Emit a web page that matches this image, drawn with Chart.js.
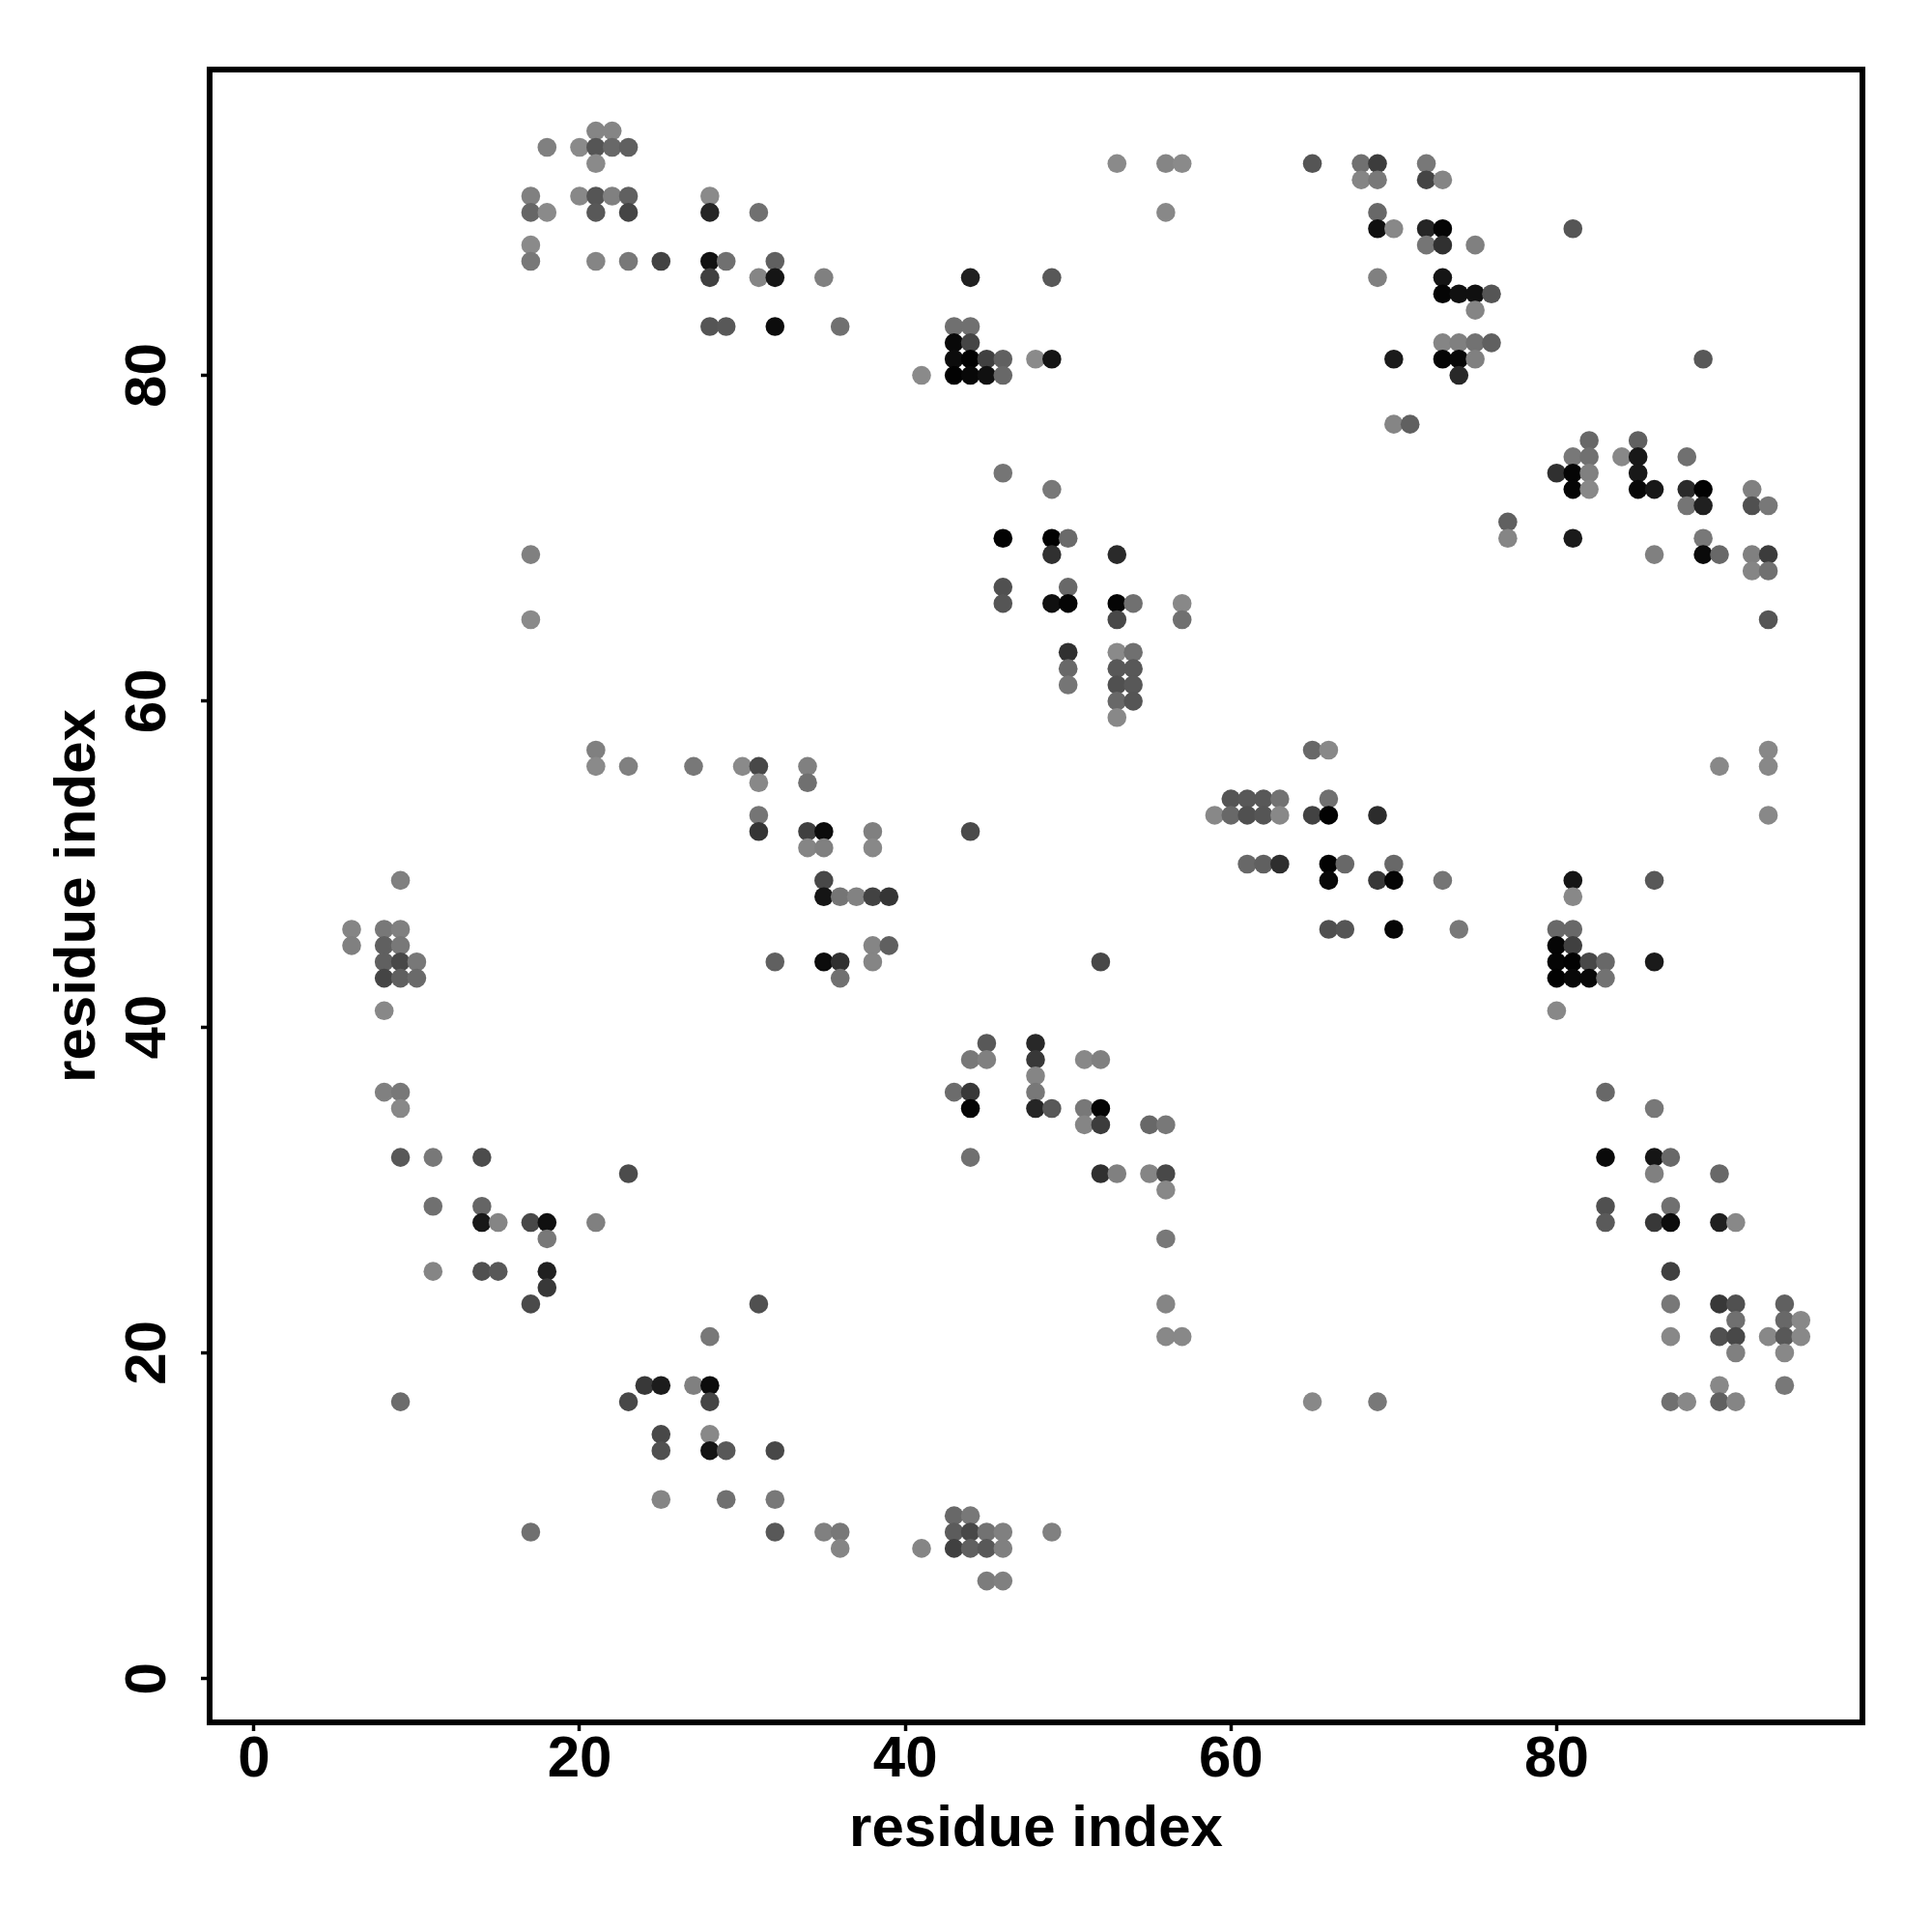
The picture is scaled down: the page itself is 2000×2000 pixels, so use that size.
<!DOCTYPE html>
<html>
<head>
<meta charset="utf-8">
<title>residue contacts</title>
<script src="https://cdn.jsdelivr.net/npm/chart.js@4"></script>
<style>
  html, body { margin: 0; padding: 0; background: #fff; }
  canvas { display: block; }
</style>
</head>
<body>
<canvas id="contactMap" width="2000" height="2000"></canvas>
<script>
// y value of each row of dots, top of the plot first
const rowY = [95, 94, 93, 92, 91, 90, 89, 88, 87, 86, 85, 84, 83, 82, 81, 80, 77, 76, 75, 74, 73, 72, 71, 70,
  69, 68, 67, 66, 65, 63, 62, 61, 60, 59, 57, 56, 55, 54, 53, 52, 51, 50, 49, 48, 46, 45, 44, 43, 41, 39, 38,
  37, 36, 35, 34, 32, 31, 30, 29, 28, 27, 25, 24, 23, 22, 21, 20, 18, 17, 15, 14, 11, 10, 9, 8, 6];

// x values of the dots in each row
const rowX = [
  [21, 22],
  [18, 20, 21, 22, 23],
  [21, 53, 56, 57, 65, 68, 69, 72],
  [68, 69, 72, 73],
  [17, 20, 21, 22, 23, 28],
  [17, 18, 21, 23, 28, 31, 56, 69],
  [69, 70, 72, 73, 81],
  [17, 72, 73, 75],
  [17, 21, 23, 25, 28, 29, 32],
  [28, 31, 32, 35, 44, 49, 69, 73],
  [73, 74, 75, 76],
  [75],
  [28, 29, 32, 36, 43, 44],
  [43, 44, 73, 74, 75, 76],
  [43, 44, 45, 46, 48, 49, 70, 73, 74, 75, 89],
  [41, 43, 44, 45, 46, 74],
  [70, 71],
  [82, 85],
  [81, 82, 84, 85, 88],
  [46, 80, 81, 82, 85],
  [49, 81, 82, 85, 86, 88, 89, 92],
  [88, 89, 92, 93],
  [77],
  [46, 49, 50, 77, 81, 89],
  [17, 49, 53, 86, 89, 90, 92, 93],
  [92, 93],
  [46, 50],
  [46, 49, 50, 53, 54, 57],
  [17, 53, 57, 93],
  [50, 53, 54],
  [50, 53, 54],
  [50, 53, 54],
  [53, 54],
  [53],
  [21, 65, 66, 93],
  [21, 23, 27, 30, 31, 34, 90, 93],
  [31, 34],
  [60, 61, 62, 63, 66],
  [31, 59, 60, 61, 62, 63, 65, 66, 69, 93],
  [31, 34, 35, 38, 44],
  [34, 35, 38],
  [61, 62, 63, 66, 67, 70],
  [9, 35, 66, 69, 70, 73, 81, 86],
  [35, 36, 37, 38, 39, 81],
  [6, 8, 9, 66, 67, 70, 74, 80, 81],
  [6, 8, 9, 38, 39, 80, 81],
  [8, 9, 10, 32, 35, 36, 38, 52, 80, 81, 82, 83, 86],
  [8, 9, 10, 36, 80, 81, 82, 83],
  [8, 80],
  [45, 48],
  [44, 45, 48, 51, 52],
  [48],
  [8, 9, 43, 44, 48, 83],
  [9, 44, 48, 49, 51, 52, 86],
  [51, 52, 55, 56],
  [9, 11, 14, 44, 83, 86, 87],
  [23, 52, 53, 55, 56, 86, 90],
  [56],
  [11, 14, 83, 87],
  [14, 15, 17, 18, 21, 83, 86, 87, 90, 91],
  [18, 56],
  [11, 14, 15, 18, 87],
  [18],
  [17, 31, 56, 87, 90, 91, 94],
  [91, 94, 95],
  [28, 56, 57, 87, 90, 91, 93, 94, 95],
  [91, 94],
  [24, 25, 27, 28, 90, 94],
  [9, 23, 28, 65, 69, 87, 88, 90, 91],
  [25, 28],
  [25, 28, 29, 32],
  [25, 29, 32],
  [43, 44],
  [17, 32, 35, 36, 43, 44, 45, 46, 49],
  [36, 41, 43, 44, 45, 46],
  [45, 46]
];

// grey level of each dot, same layout as rowX
const rowShade = [
  [0x85, 0x85],
  [0x80, 0x8a, 0x55, 0x68, 0x60],
  [0x8a, 0x8a, 0x85, 0x8a, 0x55, 0x70, 0x3c, 0x78],
  [0x85, 0x78, 0x45, 0x85],
  [0x80, 0x88, 0x55, 0x80, 0x60, 0x8a],
  [0x66, 0x8a, 0x58, 0x45, 0x25, 0x70, 0x88, 0x68],
  [0x10, 0x88, 0x25, 0x05, 0x55],
  [0x8a, 0x75, 0x30, 0x80],
  [0x78, 0x85, 0x78, 0x42, 0x12, 0x70, 0x60],
  [0x40, 0x85, 0x15, 0x80, 0x20, 0x58, 0x80, 0x15],
  [0x05, 0x10, 0x10, 0x55],
  [0x85],
  [0x55, 0x58, 0x0c, 0x70, 0x70, 0x70],
  [0x08, 0x45, 0x85, 0x80, 0x72, 0x60],
  [0x0c, 0x02, 0x40, 0x60, 0x8a, 0x15, 0x1a, 0x05, 0x08, 0x80, 0x58],
  [0x8a, 0x02, 0x08, 0x10, 0x68, 0x28],
  [0x85, 0x60],
  [0x68, 0x60],
  [0x78, 0x70, 0x88, 0x18, 0x70],
  [0x75, 0x30, 0x05, 0x80, 0x18],
  [0x78, 0x05, 0x88, 0x08, 0x18, 0x2a, 0x02, 0x80],
  [0x75, 0x20, 0x50, 0x78],
  [0x60],
  [0x02, 0x02, 0x6a, 0x85, 0x1a, 0x78],
  [0x80, 0x30, 0x2a, 0x80, 0x0a, 0x68, 0x80, 0x3c],
  [0x85, 0x70],
  [0x50, 0x68],
  [0x55, 0x10, 0x05, 0x05, 0x70, 0x88],
  [0x8a, 0x48, 0x70, 0x55],
  [0x30, 0x8a, 0x70],
  [0x68, 0x58, 0x58],
  [0x75, 0x50, 0x58],
  [0x68, 0x55],
  [0x88],
  [0x80, 0x68, 0x88, 0x88],
  [0x8a, 0x80, 0x78, 0x8a, 0x48, 0x80, 0x88, 0x88],
  [0x88, 0x70],
  [0x55, 0x58, 0x58, 0x72, 0x70],
  [0x75, 0x88, 0x68, 0x50, 0x55, 0x88, 0x42, 0x02, 0x2c, 0x88],
  [0x35, 0x40, 0x0c, 0x80, 0x4a],
  [0x85, 0x80, 0x88],
  [0x68, 0x60, 0x2e, 0x02, 0x68, 0x68],
  [0x80, 0x48, 0x08, 0x38, 0x05, 0x75, 0x15, 0x58],
  [0x15, 0x75, 0x82, 0x42, 0x35, 0x88],
  [0x85, 0x78, 0x80, 0x50, 0x55, 0x05, 0x78, 0x68, 0x68],
  [0x80, 0x60, 0x78, 0x85, 0x60, 0x05, 0x40],
  [0x60, 0x48, 0x78, 0x60, 0x0c, 0x30, 0x85, 0x48, 0x05, 0x02, 0x48, 0x68, 0x1a],
  [0x45, 0x60, 0x6a, 0x70, 0x02, 0x08, 0x08, 0x72],
  [0x88, 0x88],
  [0x58, 0x28],
  [0x78, 0x80, 0x38, 0x88, 0x80],
  [0x85],
  [0x80, 0x78, 0x6c, 0x38, 0x78, 0x68],
  [0x88, 0x05, 0x25, 0x58, 0x78, 0x05, 0x78],
  [0x85, 0x3c, 0x68, 0x78],
  [0x58, 0x78, 0x4c, 0x70, 0x0a, 0x15, 0x68],
  [0x4c, 0x30, 0x80, 0x85, 0x48, 0x80, 0x68],
  [0x88],
  [0x70, 0x65, 0x50, 0x70],
  [0x18, 0x85, 0x48, 0x10, 0x80, 0x5a, 0x38, 0x0c, 0x20, 0x88],
  [0x78, 0x78],
  [0x85, 0x50, 0x58, 0x20, 0x40],
  [0x38],
  [0x4a, 0x50, 0x85, 0x78, 0x38, 0x50, 0x60],
  [0x70, 0x68, 0x88],
  [0x78, 0x88, 0x88, 0x88, 0x50, 0x48, 0x88, 0x58, 0x88],
  [0x80, 0x88],
  [0x38, 0x1c, 0x80, 0x0c, 0x88, 0x78],
  [0x6c, 0x48, 0x45, 0x88, 0x78, 0x70, 0x88, 0x60, 0x85],
  [0x48, 0x88],
  [0x50, 0x14, 0x58, 0x48],
  [0x85, 0x70, 0x78],
  [0x68, 0x78],
  [0x70, 0x58, 0x80, 0x78, 0x5c, 0x48, 0x72, 0x80, 0x80],
  [0x85, 0x85, 0x40, 0x60, 0x58, 0x80],
  [0x7c, 0x80]
];

const xTicks = [0, 20, 40, 60, 80];
const yTicks = [0, 20, 40, 60, 80];
const axisLabel = 'residue index';

// flatten the rows into what the scatter dataset wants
const puntos = [];
const cores = [];
rowY.forEach(function (y, i) {
  rowX[i].forEach(function (x, j) {
    const s = rowShade[i][j];
    puntos.push({ x: x, y: y });
    cores.push('rgb(' + s + ',' + s + ',' + s + ')');
  });
});

const fonte = { family: '"Liberation Sans", Arial, sans-serif', size: 60, weight: 'bold' };

// caixa preta em volta da area do grafico
const frame = {
  id: 'frame',
  afterDraw(chart) {
    const a = chart.chartArea;
    const ctx = chart.ctx;
    ctx.save();
    ctx.strokeStyle = '#000';
    ctx.lineWidth = 6;
    ctx.strokeRect(a.left, a.top, a.right - a.left, a.bottom - a.top);
    ctx.restore();
  }
};

new Chart(document.getElementById('contactMap').getContext('2d'), {
  type: 'scatter',
  data: {
    datasets: [{
      data: puntos,
      pointBackgroundColor: cores,
      pointBorderWidth: 0,
      pointRadius: 9.8
    }]
  },
  options: {
    responsive: false,
    animation: false,
    devicePixelRatio: 1,
    layout: { padding: { top: 72, right: 72, left: 0, bottom: 0 } },
    plugins: { legend: { display: false }, tooltip: { enabled: false } },
    scales: {
      x: {
        type: 'linear',
        min: -2.72,
        max: 98.78,
        afterBuildTicks(axis) { axis.ticks = xTicks.map(v => ({ value: v })); },
        afterFit(axis) { axis.height = 217; },
        grid: { drawOnChartArea: false, tickLength: 9, tickWidth: 3.5, tickColor: '#000' },
        border: { display: false },
        ticks: { color: '#000', font: fonte, padding: -6, maxRotation: 0 },
        title: { display: true, text: axisLabel, color: '#000', font: fonte, padding: { top: 0, bottom: 70 } }
      },
      y: {
        type: 'linear',
        min: -2.68,
        max: 98.77,
        afterBuildTicks(axis) { axis.ticks = yTicks.map(v => ({ value: v })); },
        afterFit(axis) { axis.width = 217; },
        grid: { drawOnChartArea: false, tickLength: 9, tickWidth: 3.5, tickColor: '#000' },
        border: { display: false },
        ticks: { color: '#000', font: fonte, padding: 20, minRotation: 90, maxRotation: 90, crossAlign: 'center' },
        title: { display: true, text: axisLabel, color: '#000', font: fonte, padding: { top: 45, bottom: 0 } }
      }
    }
  },
  plugins: [frame]
});
</script>
</body>
</html>
